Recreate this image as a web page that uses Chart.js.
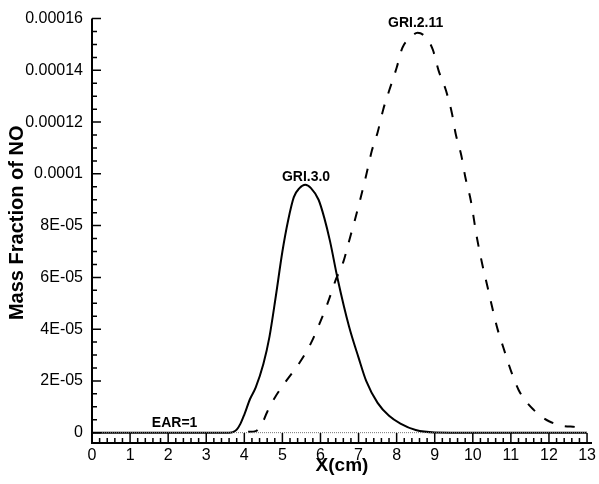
<!DOCTYPE html>
<html>
<head>
<meta charset="utf-8">
<script src="https://cdn.jsdelivr.net/npm/chart.js@4.4.1/dist/chart.umd.min.js"></script>
<style>
  html, body { margin: 0; padding: 0; background: #fff; }
  #wrap { width: 599px; height: 484px; }
</style>
</head>
<body>
<div id="wrap"><canvas id="noChart" width="599" height="484"></canvas></div>
<script>
// GRI 3.0 (solid)
const gri30X = [0, 1, 2, 3, 3.6, 3.7, 3.8, 3.9, 4.0, 4.15, 4.3, 4.5, 4.66, 4.83, 5.0, 5.15, 5.3, 5.45, 5.6, 5.75, 5.95, 6.1, 6.25, 6.45, 6.75, 7.0, 7.2, 7.5, 7.8, 8.1, 8.5, 9.0, 10, 11, 12, 13];
const gri30Y = [0, 0, 0, 0, 0, 2e-7, 1.2e-6, 3.5e-6, 7e-6, 1.3e-5, 1.75e-5, 2.65e-5, 3.7e-5, 5.3e-5, 7.0e-5, 8.2e-5, 9.1e-5, 9.45e-5, 9.58e-5, 9.45e-5, 9.0e-5, 8.3e-5, 7.4e-5, 5.95e-5, 4.1e-5, 2.9e-5, 2.0e-5, 1.15e-5, 6.5e-6, 3.5e-6, 1.0e-6, 1e-7, 0, 0, 0, 0];

// GRI 2.11 (dashed)
const gri211X = [4.1, 4.3, 4.45, 4.6, 4.8, 5.1, 5.45, 5.75, 6.0, 6.2, 6.4, 6.6, 6.75, 6.9, 7.05, 7.2, 7.35, 7.5, 7.65, 7.8, 8.0, 8.15, 8.35, 8.55, 8.75, 8.95, 9.1, 9.3, 9.45, 9.55, 9.7, 9.8, 9.95, 10.1, 10.25, 10.4, 10.5, 10.65, 10.8, 11.0, 11.2, 11.4, 11.6, 11.8, 12.0, 12.3, 12.7];
const gri211Y = [3e-7, 6e-7, 3e-6, 8e-6, 1.35e-5, 2.0e-5, 2.7e-5, 3.46e-5, 4.3e-5, 5.05e-5, 5.9e-5, 6.6e-5, 7.4e-5, 8.2e-5, 9.05e-5, 9.95e-5, 1.09e-4, 1.16e-4, 1.25e-4, 1.32e-4, 1.41e-4, 1.487e-4, 1.525e-4, 1.545e-4, 1.53e-4, 1.48e-4, 1.40e-4, 1.32e-4, 1.235e-4, 1.155e-4, 1.07e-4, 9.9e-5, 8.95e-5, 7.6e-5, 6.5e-5, 5.55e-5, 4.9e-5, 4.0e-5, 3.3e-5, 2.4e-5, 1.66e-5, 1.2e-5, 8.8e-6, 6.2e-6, 4.4e-6, 2.8e-6, 2.2e-6];

// baseline curve
const earX = [0, 13];
const earY = [0, 0];

const xTickValues = [0, 1, 2, 3, 4, 5, 6, 7, 8, 9, 10, 11, 12, 13];
const yTickValues = [0, 2e-5, 4e-5, 6e-5, 8e-5, 1e-4, 1.2e-4, 1.4e-4, 1.6e-4];
const yTickLabels = ['0', '2E-05', '4E-05', '6E-05', '8E-05', '0.0001', '0.00012', '0.00014', '0.00016'];

const noteTexts = ['GRI.3.0', 'GRI.2.11', 'EAR=1'];
const noteX = [5.62, 8.5, 2.17];
const noteY = [9.88e-5, 1.582e-4, 3.66e-6];

const yTitle = 'Mass Fraction of NO';
const xTitle = 'X(cm)';

const FONT = '"Liberation Sans", Arial, sans-serif';

const toPoints = (xs, ys) => xs.map((x, i) => ({x: x, y: ys[i]}));

// axis lines, inward ticks, y title and the text notes
const tecplotAxes = {
    id: 'tecplotAxes',
    afterDatasetsDraw(chart) {
        const {ctx, chartArea, scales} = chart;
        const x = scales.x, y = scales.y;
        ctx.save();
        ctx.strokeStyle = '#000';
        ctx.lineWidth = 2;
        ctx.beginPath();
        ctx.moveTo(chartArea.left, chartArea.top);
        ctx.lineTo(chartArea.left, chartArea.bottom);
        ctx.lineTo(chartArea.right, chartArea.bottom);
        ctx.stroke();

        ctx.lineWidth = 1.5;
        ctx.beginPath();
        for (let i = 0; i <= 65; i++) {
            const px = x.getPixelForValue(i * 0.2);
            const len = i % 5 === 0 ? 10 : 5;
            ctx.moveTo(px, chartArea.bottom);
            ctx.lineTo(px, chartArea.bottom - len);
        }
        for (let i = 0; i <= 32; i++) {
            const py = y.getPixelForValue(i * 5e-6);
            const len = i % 4 === 0 ? 9 : 5;
            ctx.moveTo(chartArea.left, py);
            ctx.lineTo(chartArea.left + len, py);
        }
        ctx.stroke();

        ctx.fillStyle = '#000';
        ctx.textAlign = 'center';
        ctx.textBaseline = 'middle';

        // y title sits a bit above the axis middle
        ctx.save();
        ctx.translate(17, (chartArea.top + chartArea.bottom) / 2 - 8);
        ctx.rotate(-Math.PI / 2);
        ctx.font = 'bold 20px ' + FONT;
        ctx.fillText(yTitle, 0, 0);
        ctx.restore();

        ctx.font = 'bold 14px ' + FONT;
        noteTexts.forEach((t, i) => {
            ctx.fillText(t, x.getPixelForValue(noteX[i]), y.getPixelForValue(noteY[i]));
        });
        ctx.restore();
    }
};

new Chart(document.getElementById('noChart'), {
    type: 'line',
    data: {
        datasets: [
            {
                label: 'EAR=1',
                data: toPoints(earX, earY),
                borderColor: '#777',
                borderWidth: 1,
                borderDash: [1, 1],
                pointRadius: 0
            },
            {
                label: 'GRI.3.0',
                data: toPoints(gri30X, gri30Y),
                borderColor: '#000',
                borderWidth: 2,
                pointRadius: 0,
                cubicInterpolationMode: 'monotone'
            },
            {
                label: 'GRI.2.11',
                data: toPoints(gri211X, gri211Y),
                borderColor: '#000',
                borderWidth: 2,
                borderDash: [10, 12],
                pointRadius: 0,
                cubicInterpolationMode: 'monotone'
            }
        ]
    },
    options: {
        responsive: false,
        animation: false,
        layout: {padding: {left: 0, top: 18, right: 6, bottom: 0}},
        plugins: {
            legend: {display: false},
            tooltip: {enabled: false}
        },
        scales: {
            x: {
                type: 'linear',
                min: 0,
                max: 13.13,
                afterBuildTicks: scale => { scale.ticks = xTickValues.map(v => ({value: v})); },
                afterFit: scale => { scale.height = 41; },
                grid: {display: false, drawTicks: false},
                border: {display: false},
                ticks: {
                    color: '#000',
                    font: {family: FONT, size: 16},
                    padding: 3,
                    maxRotation: 0,
                    autoSkip: false
                },
                title: {
                    display: true,
                    text: xTitle,
                    color: '#000',
                    font: {family: FONT, size: 19, weight: 'bold'},
                    padding: {top: 0, bottom: 7}
                }
            },
            y: {
                type: 'linear',
                min: -4e-6,
                max: 1.6e-4,
                afterBuildTicks: scale => { scale.ticks = yTickValues.map(v => ({value: v})); },
                afterFit: scale => { scale.width = 92; },
                grid: {display: false, drawTicks: false},
                border: {display: false},
                ticks: {
                    color: '#000',
                    font: {family: FONT, size: 16},
                    padding: 9,
                    autoSkip: false,
                    callback: (v, i) => yTickLabels[i]
                }
            }
        }
    },
    plugins: [tecplotAxes]
});
</script>
</body>
</html>
